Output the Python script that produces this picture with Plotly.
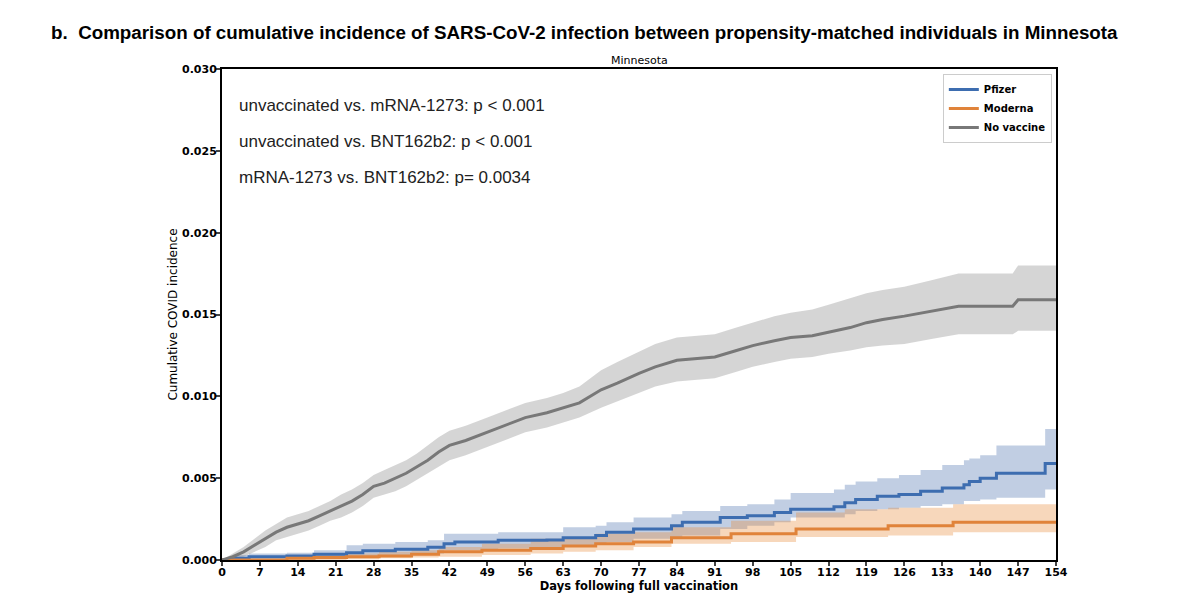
import plotly.graph_objects as go

# ---- No vaccine (gray) ----
nv_days  = [0, 2, 4, 6, 8, 10, 12, 14, 16, 18, 20, 22, 24, 26, 28, 30, 32, 34, 36, 38, 40, 42, 45, 49, 52, 56, 60, 63, 66, 70, 73, 77, 80, 84, 88, 91, 95, 98, 102, 105, 109, 112, 116, 119, 122, 126, 131, 136, 146, 147, 154]
nv_mid   = [0, 0.0002, 0.0005, 0.0009, 0.0013, 0.0017, 0.0020, 0.0022, 0.0024, 0.0027, 0.0030, 0.0033, 0.0036, 0.0040, 0.0045, 0.0047, 0.0050, 0.0053, 0.0057, 0.0061, 0.0066, 0.0070, 0.0073, 0.0078, 0.0082, 0.0087, 0.0090, 0.0093, 0.0096, 0.0104, 0.0108, 0.0114, 0.0118, 0.0122, 0.0123, 0.0124, 0.0128, 0.0131, 0.0134, 0.0136, 0.0137, 0.0139, 0.0142, 0.0145, 0.0147, 0.0149, 0.0152, 0.0155, 0.0155, 0.0159, 0.0159]
nv_upper = [0, 0.0004, 0.0008, 0.0013, 0.0018, 0.0022, 0.0026, 0.0028, 0.0030, 0.0033, 0.0036, 0.0040, 0.0043, 0.0047, 0.0052, 0.0055, 0.0058, 0.0061, 0.0065, 0.0070, 0.0075, 0.0079, 0.0082, 0.0087, 0.0091, 0.0096, 0.0099, 0.0102, 0.0106, 0.0116, 0.0121, 0.0127, 0.0132, 0.0136, 0.0137, 0.0138, 0.0142, 0.0145, 0.0149, 0.0151, 0.0153, 0.0156, 0.0160, 0.0163, 0.0165, 0.0167, 0.0171, 0.0175, 0.0175, 0.0180, 0.0180]
nv_lower = [0, 0.0000, 0.0002, 0.0005, 0.0008, 0.0012, 0.0014, 0.0016, 0.0018, 0.0021, 0.0024, 0.0026, 0.0029, 0.0033, 0.0038, 0.0040, 0.0042, 0.0045, 0.0049, 0.0053, 0.0057, 0.0061, 0.0064, 0.0069, 0.0073, 0.0078, 0.0081, 0.0084, 0.0087, 0.0093, 0.0097, 0.0102, 0.0106, 0.0109, 0.0110, 0.0111, 0.0115, 0.0118, 0.0121, 0.0123, 0.0124, 0.0126, 0.0128, 0.0130, 0.0131, 0.0132, 0.0135, 0.0138, 0.0138, 0.0140, 0.0140]

# ---- Pfizer (blue) ----
pf_days  = [0, 2, 5, 12, 17, 23, 26, 32, 38, 41, 43, 51, 60, 63, 69, 71, 76, 83, 85, 92, 97, 102, 105, 113, 115, 117, 121, 125, 129, 133, 137, 138, 140, 143, 152, 154]
pf_mid   = [0, 0.0001, 0.0002, 0.00025, 0.00035, 0.00045, 0.00057, 0.00065, 0.00078, 0.0010, 0.0011, 0.0012, 0.00122, 0.00136, 0.0015, 0.0017, 0.0019, 0.0021, 0.0023, 0.0026, 0.0027, 0.0029, 0.0031, 0.00326, 0.0035, 0.0037, 0.0039, 0.0040, 0.0042, 0.0044, 0.0046, 0.0048, 0.0050, 0.0053, 0.0059, 0.0059]
pf_upper = [0, 0.0003, 0.0004, 0.00045, 0.0006, 0.0009, 0.0010, 0.0011, 0.0012, 0.0016, 0.0016, 0.0017, 0.0017, 0.0020, 0.0021, 0.0023, 0.0026, 0.0028, 0.0030, 0.0033, 0.0034, 0.0037, 0.0041, 0.0043, 0.0046, 0.0048, 0.0050, 0.0052, 0.0055, 0.0058, 0.0061, 0.0062, 0.0064, 0.0070, 0.0080, 0.0080]
pf_lower = [0, 0.0000, 0.0000, 0.0001, 0.00015, 0.0002, 0.00025, 0.0003, 0.0004, 0.0006, 0.0006, 0.0007, 0.0008, 0.0009, 0.0010, 0.0011, 0.0013, 0.0014, 0.0015, 0.0019, 0.0021, 0.0023, 0.0026, 0.0026, 0.0028, 0.0030, 0.0031, 0.0032, 0.0033, 0.0034, 0.0036, 0.0036, 0.0037, 0.0038, 0.0043, 0.0043]

# ---- Moderna (orange) ----
md_days  = [0, 12, 17, 23, 29, 35, 40, 48, 57, 63, 69, 76, 83, 94, 106, 115, 123, 135, 154]
md_mid   = [0, 0.0001, 0.00015, 0.0002, 0.00025, 0.00035, 0.0005, 0.0006, 0.0007, 0.00085, 0.0010, 0.0011, 0.00136, 0.0016, 0.0019, 0.0019, 0.0021, 0.0023, 0.0024]
md_upper = [0, 0.0002, 0.0003, 0.0004, 0.0005, 0.0006, 0.0008, 0.0010, 0.0013, 0.0014, 0.0016, 0.0017, 0.0020, 0.0024, 0.0029, 0.0031, 0.0032, 0.0034, 0.0035]
md_lower = [0, 0.0, 0.0, 0.00005, 0.0001, 0.00015, 0.0002, 0.0003, 0.0004, 0.0005, 0.0006, 0.0008, 0.0010, 0.0011, 0.0014, 0.0014, 0.0015, 0.0017, 0.0017]

x_ticks = list(range(0, 155, 7))
y_ticks = [0.000, 0.005, 0.010, 0.015, 0.020, 0.025, 0.030]
y_tick_labels = ["0.000", "0.005", "0.010", "0.015", "0.020", "0.025", "0.030"]

annotations_text = [
    "unvaccinated vs. mRNA-1273: p < 0.001",
    "unvaccinated vs. BNT162b2: p < 0.001",
    "mRNA-1273 vs. BNT162b2: p= 0.0034",
]

series = [
    ("Pfizer", pf_days, pf_mid, pf_upper, pf_lower, "#3d6db0", "rgba(76,114,176,0.35)", "hv"),
    ("Moderna", md_days, md_mid, md_upper, md_lower, "#e0833a", "rgba(232,140,60,0.35)", "hv"),
    ("No vaccine", nv_days, nv_mid, nv_upper, nv_lower, "#787878", "rgba(150,150,150,0.40)", "linear"),
]

fig = go.Figure()
for name, d, m, u, l, col, fillcol, shp in series:
    fig.add_trace(go.Scatter(x=d, y=l, mode="lines", line=dict(width=0, shape=shp),
                             showlegend=False, hoverinfo="skip"))
    fig.add_trace(go.Scatter(x=d, y=u, mode="lines", line=dict(width=0, shape=shp),
                             fill="tonexty", fillcolor=fillcol, showlegend=False, hoverinfo="skip"))
for name, d, m, u, l, col, fillcol, shp in series:
    fig.add_trace(go.Scatter(x=d, y=m, mode="lines", name="<b>%s</b>" % name,
                             line=dict(color=col, width=3, shape=shp)))

ann = []
for i, t in enumerate(annotations_text):
    ann.append(dict(text=t, xref="paper", yref="paper", x=0.018, y=0.925 - i * 0.0725,
                    xanchor="left", yanchor="middle", showarrow=False,
                    font=dict(family="Liberation Sans, Arial", size=17, color="#222")))
ann.append(dict(text="<b>b.  Comparison of cumulative incidence of SARS-CoV-2 infection between propensity-matched individuals in Minnesota</b>",
                xref="paper", yref="paper", x=-0.207, y=1.0 + 37 / 491, xanchor="left", yanchor="middle",
                showarrow=False, font=dict(family="Liberation Sans, Arial", size=18.8, color="#000")))
ann.append(dict(text="Minnesota", xref="paper", yref="paper", x=0.5, y=1.0, xanchor="center",
                yanchor="bottom", showarrow=False, yshift=0,
                font=dict(family="DejaVu Sans", size=11, color="#000")))

fig.update_layout(
    width=1192, height=597,
    margin=dict(l=214, r=144, t=61, b=45),
    paper_bgcolor="white", plot_bgcolor="white",
    annotations=ann,
    legend=dict(x=0.995, y=0.99, xanchor="right", yanchor="top", traceorder="normal",
                bgcolor="rgba(255,255,255,0.9)", bordercolor="#cccccc", borderwidth=1,
                font=dict(family="DejaVu Sans", size=10, color="#000"),
                itemwidth=30, tracegroupgap=0),
    font=dict(family="DejaVu Sans", color="#000"),
)
fig.update_xaxes(range=[0, 154], tickvals=x_ticks, ticktext=["<b>%d</b>" % v for v in x_ticks],
                 ticks="outside", ticklen=4, tickwidth=1.5, automargin=False, ticklabelstandoff=-3,
                 showline=True, linecolor="black", linewidth=2, mirror=True, showgrid=False,
                 zeroline=False, tickfont=dict(family="DejaVu Sans", size=11, color="#000"),
                 title=dict(text="<b>Days following full vaccination</b>", standoff=0,
                            font=dict(family="DejaVu Sans", size=11.5, color="#000")))
fig.update_yaxes(range=[0, 0.030], tickvals=y_ticks, ticktext=["<b>%s</b>" % t for t in y_tick_labels],
                 ticks="outside", ticklen=4, tickwidth=1.5, automargin=False, ticklabelstandoff=-3,
                 showline=True, linecolor="black", linewidth=2, mirror=True, showgrid=False,
                 zeroline=False, tickfont=dict(family="DejaVu Sans", size=11, color="#000"),
                 title=dict(text="Cumulative COVID incidence", standoff=2,
                            font=dict(family="DejaVu Sans", size=12, color="#000")))

fig.write_html("out.html")
